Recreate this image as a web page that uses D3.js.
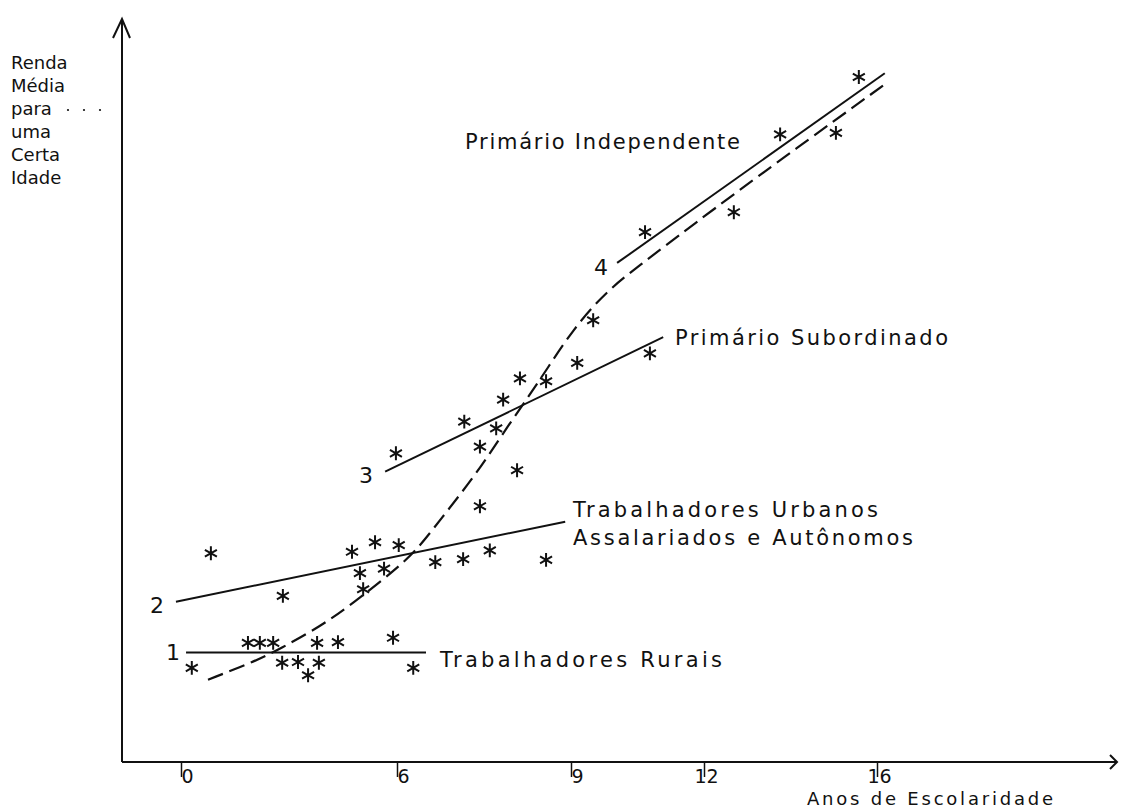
<!DOCTYPE html>
<html>
<head>
<meta charset="utf-8">
<script src="https://cdn.jsdelivr.net/npm/d3@7"></script>
<style>
  body { margin: 0; background: #fff; }
  svg text { font-family: "DejaVu Sans", sans-serif; fill: #111; }
</style>
</head>
<body>
<svg id="chart" width="1122" height="812"></svg>
<script>
// tick labels on the schooling axis (drawn unevenly in the original)
const xTicks = [0, 6, 9, 12, 16];

// observed points: [anos de escolaridade, renda (indice 0-100)]
const rurais = [
  [0.30, 12.8], [1.86, 16.2], [2.19, 16.2], [2.56, 16.2], [2.81, 13.5], [3.25, 13.6],
  [3.53, 11.8], [3.83, 13.5], [3.78, 16.2], [4.36, 16.3], [5.89, 16.9], [6.28, 12.8]
];
const urbanos = [
  [0.83, 28.4], [2.83, 22.6], [4.75, 28.6], [5.39, 29.9], [6.03, 29.5], [4.97, 25.7],
  [5.64, 26.3], [5.06, 23.5], [6.66, 27.2], [7.14, 27.6], [7.60, 28.8], [8.57, 27.5]
];
const subordinado = [
  [5.97, 42.0], [7.16, 46.3], [7.83, 49.3], [8.12, 52.2], [8.57, 51.8], [9.14, 54.3],
  [7.71, 45.4], [7.43, 42.9], [8.07, 39.7], [7.43, 34.8], [9.50, 60.1], [10.78, 55.6]
];
const independente = [
  [10.67, 72.1], [12.69, 74.8], [13.76, 85.4], [15.05, 85.6], [15.58, 93.2]
];

// fitted segments, one per group
const fits = [
  { id: "1", pts: [[0.14, 14.9], [6.5, 14.9]] },
  { id: "2", pts: [[-0.14, 21.8], [8.90, 32.7]] },
  { id: "3", pts: [[5.67, 39.5], [11.08, 57.8]] },
  { id: "4", pts: [[10.04, 67.9], [16.18, 93.7]] }
];

// overall (dashed) curve
const envelope = [
  [0.75, 11.2], [2.06, 13.7], [2.75, 15.4], [3.86, 18.4], [4.78, 21.6], [5.89, 25.9],
  [6.34, 28.8], [6.74, 32.9], [7.38, 39.3], [7.90, 45.6], [8.47, 52.0], [9.05, 59.0],
  [9.83, 64.2], [10.49, 67.3], [11.68, 72.8], [13.76, 81.9], [16.25, 92.5]
];

const yLabel = ["Renda", "Média", "para", "uma", "Certa", "Idade"];

const svg = d3.select("#chart");

// the hand-drawn axis spaces its ticks unevenly, so a polylinear scale follows it
const x = d3.scaleLinear().domain(xTicks).range([181, 397, 571, 704, 877]);
const y = d3.scaleLinear().domain([0, 100]).range([762, 27]);

const axisX0 = 122, axisX1 = 1117;

// axes lines + arrowheads
const ink = "#111";
svg.append("line")
  .attr("x1", axisX0).attr("x2", axisX0)
  .attr("y1", y(0)).attr("y2", y(100) - 7)
  .attr("stroke", ink).attr("stroke-width", 2);
svg.append("path")
  .attr("d", `M${axisX0 - 9},${y(100) + 11} L${axisX0},${y(100) - 8} L${axisX0 + 8},${y(100) + 11}`)
  .attr("fill", "none").attr("stroke", ink).attr("stroke-width", 2);

svg.append("line")
  .attr("x1", axisX0).attr("x2", axisX1)
  .attr("y1", y(0)).attr("y2", y(0))
  .attr("stroke", ink).attr("stroke-width", 2);
svg.append("path")
  .attr("d", `M${axisX1 - 7},${y(0) - 7} L${axisX1},${y(0)} L${axisX1 - 7},${y(0) + 7}`)
  .attr("fill", "none").attr("stroke", ink).attr("stroke-width", 2);

const xAxis = svg.append("g")
  .attr("transform", `translate(0,${y(0)})`)
  .call(d3.axisBottom(x).tickValues(xTicks).tickSize(15).tickSizeOuter(0))
  .call(g => g.select(".domain").remove());
xAxis.selectAll(".tick line").attr("stroke", ink).attr("stroke-width", 1.5);
xAxis.selectAll(".tick text")
  .attr("text-anchor", "start")
  .attr("x", d => String(d).length > 1 ? -10 : 0)
  .attr("y", 8)
  .attr("dy", "0.71em")
  .style("font-size", "19px")
  .attr("fill", ink);

svg.append("text")
  .attr("x", 807).attr("y", 805)
  .attr("textLength", 246).attr("lengthAdjust", "spacing")
  .style("font-size", "18px")
  .text("Anos de Escolaridade");

// y title, stacked lines
svg.append("g").selectAll("text")
  .data(yLabel)
  .join("text")
  .attr("x", 11)
  .attr("y", (d, i) => 69 + i * 23)
  .style("font-size", "18px")
  .text(d => d);
svg.append("g").selectAll("circle")
  .data([68, 84, 100])
  .join("circle")
  .attr("cx", d => d).attr("cy", 110).attr("r", 1.1).attr("fill", ink);

// fitted segments
const line = d3.line().x(d => x(d[0])).y(d => y(d[1]));
svg.append("g").selectAll("path")
  .data(fits)
  .join("path")
  .attr("d", d => line(d.pts))
  .attr("fill", "none").attr("stroke", ink).attr("stroke-width", 2);

// dashed overall curve
svg.append("path")
  .datum(envelope)
  .attr("d", line.curve(d3.curveBasis))
  .attr("fill", "none").attr("stroke", ink).attr("stroke-width", 2.2)
  .attr("stroke-dasharray", "16,7");

// stars
const star = d3.symbol().type(d3.symbolAsterisk).size(135);
const allPts = [].concat(rurais, urbanos, subordinado, independente);
svg.append("g").selectAll("path")
  .data(allPts)
  .join("path")
  .attr("d", star)
  .attr("transform", d => `translate(${x(d[0])},${y(d[1])})`)
  .attr("fill", "none").attr("stroke", ink).attr("stroke-width", 2);

// segment numbers
const numPos = { "1": [166, 660], "2": [150, 613], "3": [359, 483], "4": [594, 275] };
svg.append("g").selectAll("text")
  .data(fits)
  .join("text")
  .attr("x", d => numPos[d.id][0]).attr("y", d => numPos[d.id][1])
  .style("font-size", "22px")
  .text(d => d.id);

// group labels
const labels = [
  { t: "Primário Independente", x: 465, y: 149, w: 275 },
  { t: "Primário Subordinado", x: 675, y: 345, w: 273 },
  { t: "Trabalhadores Urbanos", x: 573, y: 517, w: 305 },
  { t: "Assalariados e Autônomos", x: 573, y: 545, w: 340 },
  { t: "Trabalhadores Rurais", x: 440, y: 667, w: 282 }
];
svg.append("g").selectAll("text")
  .data(labels)
  .join("text")
  .attr("x", d => d.x).attr("y", d => d.y)
  .attr("textLength", d => d.w).attr("lengthAdjust", "spacing")
  .style("font-size", "21px")
  .text(d => d.t);
</script>
</body>
</html>
